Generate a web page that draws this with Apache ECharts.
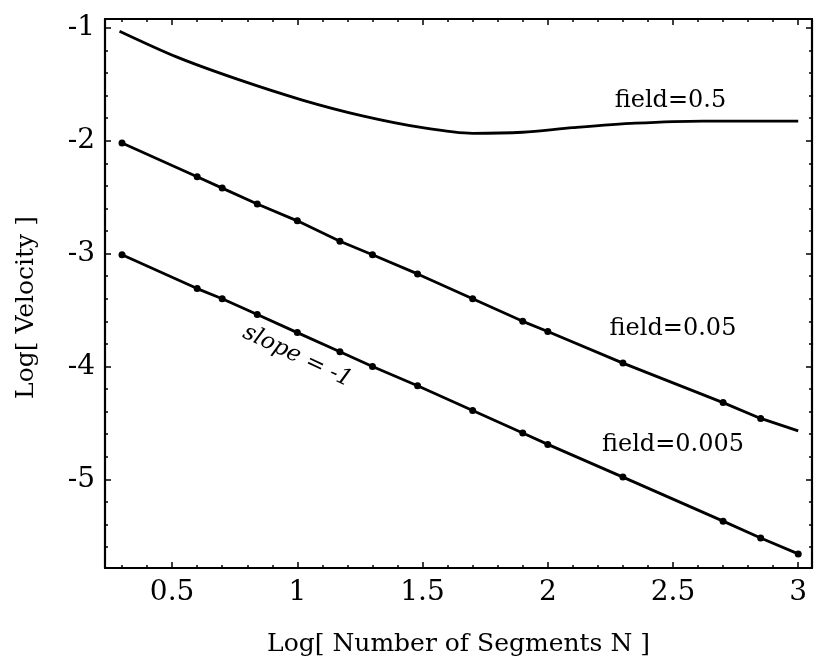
<!DOCTYPE html>
<html>
<head>
<meta charset="utf-8">
<script src="https://cdn.jsdelivr.net/npm/echarts@6/dist/echarts.min.js"></script>
<style>
  html, body { margin: 0; padding: 0; background: #ffffff; }
  #chart { width: 814px; height: 666px; }
</style>
</head>
<body>
<div id="chart"></div>
<script>
// Log of chain length N (simulated sizes)
const logN = [0.30, 0.60, 0.70, 0.84, 1.00, 1.17, 1.30, 1.48, 1.70, 1.90, 2.00, 2.30, 2.70, 2.85, 3.00];
// Log velocity for field = 0.05 and field = 0.005
const logVField005 = [-2.02, -2.32, -2.42, -2.56, -2.71, -2.89, -3.01, -3.18, -3.40, -3.60, -3.69, -3.97, -4.32, -4.46, -4.57];
const logVField0005 = [-3.01, -3.31, -3.40, -3.54, -3.70, -3.87, -4.00, -4.17, -4.39, -4.59, -4.69, -4.98, -5.37, -5.52, -5.66];
// Smooth curve for field = 0.5
const logNField05 = [0.29, 0.52, 0.76, 1.02, 1.26, 1.50, 1.70, 1.90, 2.10, 2.35, 2.62, 3.00];
const logVField05 = [-1.03, -1.26, -1.455, -1.64, -1.78, -1.885, -1.935, -1.925, -1.885, -1.845, -1.826, -1.826];

// Tick positions
const xMajorTicks = [0.5, 1, 1.5, 2, 2.5, 3];
const xMinorTicks = [0.3, 0.4, 0.6, 0.7, 0.8, 0.9, 1.1, 1.2, 1.3, 1.4, 1.6, 1.7, 1.8, 1.9,
                     2.1, 2.2, 2.3, 2.4, 2.6, 2.7, 2.8, 2.9, 3.0];
const yMajorTicks = [-1, -2, -3, -4, -5];
const yMinorTicks = [-1.2, -1.4, -1.6, -1.8, -2.2, -2.4, -2.6, -2.8, -3.2, -3.4, -3.6, -3.8,
                     -4.2, -4.4, -4.6, -4.8, -5.2, -5.4, -5.6];

// Curve labels: [text, logN, logV]
const curveLabels = [
  ['field=0.5', 2.49, -1.65],
  ['field=0.05', 2.50, -3.67],
  ['field=0.005', 2.50, -4.69]
];
const slopeLabel = ['slope = -1', 1.00, -3.91];

const X_MIN = 0.232, X_MAX = 3.055;
const Y_MIN = -5.785, Y_MAX = -0.922;
const FONT = 'DejaVu Serif';

function pairs(xs, ys) { return xs.map((x, i) => [x, ys[i]]); }

function xAxisDef(position, ticks, len, opts) {
  return Object.assign({
    type: 'value', position: position, min: X_MIN, max: X_MAX,
    axisLine: { show: false, onZero: false },
    axisTick: { show: true, inside: true, length: len, customValues: ticks,
                lineStyle: { color: '#000', width: 1.5 } },
    axisLabel: { show: false },
    splitLine: { show: false }
  }, opts || {});
}
function yAxisDef(position, ticks, len, opts) {
  return Object.assign({
    type: 'value', position: position, min: Y_MIN, max: Y_MAX,
    axisLine: { show: false, onZero: false },
    axisTick: { show: true, inside: true, length: len, customValues: ticks,
                lineStyle: { color: '#000', width: 1.5 } },
    axisLabel: { show: false },
    splitLine: { show: false }
  }, opts || {});
}

const frameLine = { show: true, onZero: false, lineStyle: { color: '#000', width: 2.2 } };

const option = {
  backgroundColor: '#ffffff',
  animation: false,
  grid: { left: 105, right: 2, top: 19, bottom: 98, containLabel: false },
  xAxis: [
    xAxisDef('bottom', xMajorTicks, 6, {
      axisLine: frameLine,
      axisLabel: { show: true, customValues: xMajorTicks, color: '#000', fontFamily: FONT,
                   fontSize: 28, margin: 11, formatter: v => String(v) },
      name: 'Log[ Number of Segments N ]', nameLocation: 'middle', nameGap: 64,
      nameTextStyle: { color: '#000', fontFamily: FONT, fontSize: 25 }
    }),
    xAxisDef('bottom', xMinorTicks, 3),
    xAxisDef('top', xMajorTicks, 6, { axisLine: frameLine }),
    xAxisDef('top', xMinorTicks, 3)
  ],
  yAxis: [
    yAxisDef('left', yMajorTicks, 6, {
      axisLine: frameLine,
      axisLabel: { show: true, customValues: yMajorTicks, color: '#000', fontFamily: FONT,
                   fontSize: 28, margin: 10, formatter: v => String(v) },
      name: 'Log[ Velocity ]', nameLocation: 'middle', nameGap: 66, nameRotate: 90,
      nameTextStyle: { color: '#000', fontFamily: FONT, fontSize: 25, padding: [0, 0, 0, -28] }
    }),
    yAxisDef('left', yMinorTicks, 3),
    yAxisDef('right', yMajorTicks, 6, { axisLine: frameLine }),
    yAxisDef('right', yMinorTicks, 3)
  ],
  series: [
    {
      name: 'field=0.5', type: 'line', xAxisIndex: 0, yAxisIndex: 0,
      data: pairs(logNField05, logVField05), smooth: 0.3,
      showSymbol: false, symbol: 'none',
      lineStyle: { color: '#000', width: 2.8 }
    },
    {
      name: 'field=0.05', type: 'line', xAxisIndex: 0, yAxisIndex: 0,
      data: pairs(logN, logVField005).map((p, i, a) =>
        i === a.length - 1 ? { value: p, symbol: 'none' } : p),
      symbol: 'circle', symbolSize: 7,
      itemStyle: { color: '#000' },
      lineStyle: { color: '#000', width: 2.8 }
    },
    {
      name: 'field=0.005', type: 'line', xAxisIndex: 0, yAxisIndex: 0,
      data: pairs(logN, logVField0005),
      symbol: 'circle', symbolSize: 7,
      itemStyle: { color: '#000' },
      lineStyle: { color: '#000', width: 2.8 }
    }
  ]
};

const chart = echarts.init(document.getElementById('chart'), null, { renderer: 'canvas' });
chart.setOption(option);

// Text annotations anchored in data coordinates
const graphics = curveLabels.map(([text, x, y]) => {
  const p = chart.convertToPixel({ gridIndex: 0 }, [x, y]);
  return {
    type: 'text', x: p[0], y: p[1],
    style: { text: text, fill: '#000', font: '24px "' + FONT + '"',
             align: 'center', verticalAlign: 'middle' }
  };
});
{
  const p = chart.convertToPixel({ gridIndex: 0 }, [slopeLabel[1], slopeLabel[2]]);
  graphics.push({
    type: 'text', x: p[0], y: p[1], rotation: -0.44,
    style: { text: slopeLabel[0], fill: '#000', font: 'italic 23px "' + FONT + '"',
             align: 'center', verticalAlign: 'middle' }
  });
}
chart.setOption({ graphic: graphics });
</script>
</body>
</html>
